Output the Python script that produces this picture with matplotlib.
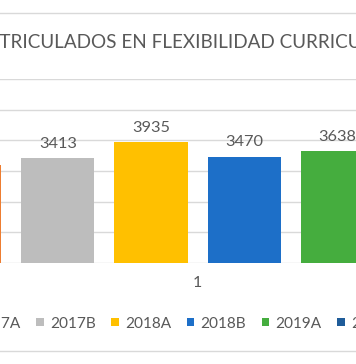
import matplotlib

matplotlib.use("Agg")
import matplotlib.pyplot as plt
from matplotlib.patches import Rectangle

# --- data -------------------------------------------------------------------
series = ["2017A", "2017B", "2018A", "2018B", "2019A", "2019B"]
values = [3190, 3413, 3935, 3470, 3638, 3700]
colors = ["#ED7D31", "#BDBDBD", "#FFC000", "#1D6FC8", "#45AD3E", "#1F5C99"]
category = ["1"]
title = "MATRICULADOS EN FLEXIBILIDAD CURRICULAR"

# --- style ------------------------------------------------------------------
plt.rcParams["font.family"] = ["Lato", "DejaVu Sans"]
TEXT = "#595959"
GRID = "#D9D9D9"

W, H = 356, 364
fig = plt.figure(figsize=(W / 100, H / 100), dpi=100)
fig.patch.set_facecolor("white")

# plot area deliberately runs past the canvas edges (cropped chart)
left_px, right_px = -100, 495.4
top_px, base_px = 79.1, 262.7
ax = fig.add_axes([left_px / W, 1 - base_px / H,
                   (right_px - left_px) / W, (base_px - top_px) / H])

SLOT = 0.1567
BAR_W = 0.1231
n = len(series)
for i, (name, v, c) in enumerate(zip(series, values, colors)):
    x = (i - (n - 1) / 2) * SLOT
    bars = ax.bar(x, v, width=BAR_W, color=c, label=name, zorder=2)
    ax.bar_label(bars, labels=[str(v)], padding=5.5, fontsize=11.8, color=TEXT)

ax.set_xlim(-0.5, 0.5)
ax.set_ylim(0, 6000)
ax.set_yticks(range(0, 6001, 1000))
ax.yaxis.grid(True, color=GRID, linewidth=1.0, zorder=0)
ax.set_axisbelow(True)
ax.tick_params(axis="y", length=0, labelleft=False)
ax.set_xticks([0], category)
ax.tick_params(axis="x", length=0, pad=9.5, labelsize=11.5, labelcolor=TEXT)
for s in ax.spines.values():
    s.set_visible(False)
ax.set_facecolor("none")

# chart border (only top and bottom edges fall inside the crop)
fig.add_artist(Rectangle((-0.5, 1 - 350.5 / H), 2.0, (350.5 - 13.3) / H,
                         transform=fig.transFigure, fill=False,
                         edgecolor=GRID, linewidth=1.0))

fig.text(182 / W, 1 - 48 / H, title, ha="center", va="baseline",
         fontsize=13.6, color=TEXT)

leg = fig.legend(loc="center", bbox_to_anchor=(178.5 / W, 1 - 323.5 / H),
                 ncol=n, frameon=False, fontsize=11.1, labelcolor=TEXT,
                 handlelength=0.5, handleheight=0.5, handletextpad=0.4,
                 columnspacing=1.0, borderaxespad=0)

fig.savefig("out.png", dpi=100)
